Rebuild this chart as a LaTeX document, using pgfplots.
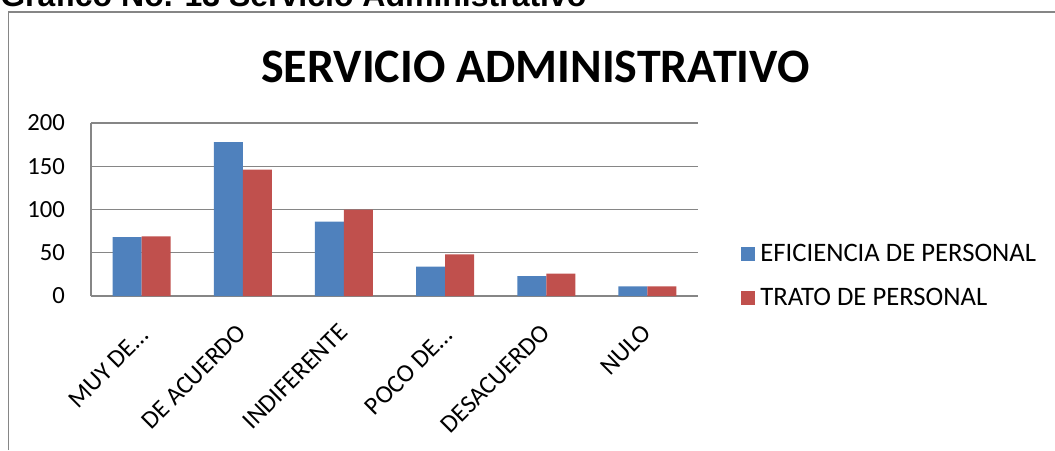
\documentclass[border=0pt]{standalone}
\usepackage{pgfplots}
\pgfplotsset{compat=1.18}
\usepackage{fontspec}
\setmainfont{Carlito}
\newfontfamily\arialfont{Liberation Sans}
\definecolor{cblue}{HTML}{4F81BD}
\definecolor{cred}{HTML}{C0504D}
\definecolor{cgrid}{HTML}{868686}
\begin{document}
\begin{tikzpicture}
\useasboundingbox (0,0) rectangle (791.25pt,-337.5pt);
% frame
\draw[cgrid, line width=1.1pt] (6.4pt,-337.5pt) -- (6.4pt,-9pt) -- (791.25pt,-9pt);
% clipped caption above frame
\node[anchor=base west, inner sep=0pt, font=\arialfont\bfseries\fontsize{24}{24}\selectfont] at (0pt,-5pt) {Gráfico No. 13 Servicio Administrativo};
% title
\node[anchor=center, inner sep=0pt, font=\bfseries\fontsize{36}{36}\selectfont] at (401.5pt,-50pt) {SERVICIO ADMINISTRATIVO};
\begin{axis}[
  at={(68.25pt,-222pt)}, anchor=south west,
  scale only axis,
  width=455.25pt, height=129.75pt,
  ybar=0pt, bar width=21.75pt,
  xmin=-0.5, xmax=5.5,
  ymin=0, ymax=200,
  xtick=data,
  xticklabels={{\raisebox{-3.6pt}{MUY DE…}\hspace{-29pt}},DE ACUERDO,INDIFERENTE,{\raisebox{-3.6pt}{POCO DE…}\hspace{-29pt}},DESACUERDO,NULO},
  ytick={0,50,100,150,200},
  axis x line*=bottom, axis y line*=left,
  axis line style={cgrid, line width=1.1pt, -},
  ymajorgrids, grid style={cgrid, line width=1.1pt},
  major tick length=0pt,
  /pgf/number format/assume math mode=true,
  tick label style={font=\fontsize{18.5}{18.5}\selectfont, black},
  yticklabel style={anchor=east, xshift=-16pt},
  xticklabel style={font=\fontsize{19}{19}\selectfont, inner sep=0pt, xshift=3.9pt, yshift=-28.5pt, rotate=45, anchor=base east},
  legend style={draw=none, fill=none, at={(1.071,0.1156)}, anchor=west,
    font=\fontsize{20}{20}\selectfont, row sep=18.7pt, inner sep=0pt,
    nodes={inner sep=0pt}},
  legend cell align=left,
  legend image code/.code={\fill[#1] (0pt,-5.25pt) rectangle (10.5pt,5.25pt); \path (14.25pt,0pt);},
]
\addplot[fill=cblue, draw=none] coordinates {(0,68) (1,178) (2,86) (3,34) (4,23) (5,11)};
\addplot[fill=cred, draw=none] coordinates {(0,69) (1,146) (2,100) (3,48) (4,26) (5,11)};
\legend{EFICIENCIA DE PERSONAL\vphantom{Ag}, TRATO DE PERSONAL\vphantom{Ag}}
\end{axis}
\end{tikzpicture}
\end{document}
